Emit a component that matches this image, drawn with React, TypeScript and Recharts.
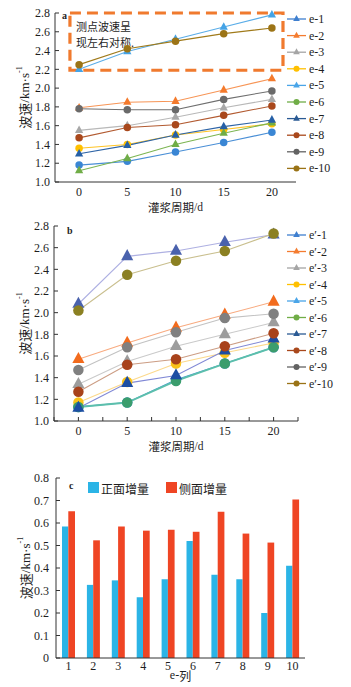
import React from 'react';
import { LineChart, Line, XAxis, YAxis, Legend, ReferenceArea, Customized, BarChart, Bar, Label } from 'recharts';

// ---------- data ----------
const periods = [0, 5, 10, 15, 20];
const periodTicksA = [0, 5, 10, 15, 20];
const periodTicksB = [-2.5, 0, 2.5, 5, 7.5, 10, 12.5, 15, 17.5, 20, 22.5];
const yTicksAB = [1.0, 1.2, 1.4, 1.6, 1.8, 2.0, 2.2, 2.4, 2.6, 2.8];
const yTicksC = [0, 0.1, 0.2, 0.3, 0.4, 0.5, 0.6, 0.7, 0.8];

const namesA = ['e-1', 'e-2', 'e-3', 'e-4', 'e-5', 'e-6', 'e-7', 'e-8', 'e-9', 'e-10'];
const aE1 = [1.18, 1.22, 1.32, 1.42, 1.53];
const aE2 = [1.79, 1.85, 1.86, 1.98, 2.1];
const aE3 = [1.55, 1.6, 1.69, 1.79, 1.88];
const aE4 = [1.36, 1.4, 1.5, 1.56, 1.62];
const aE5 = [2.2, 2.39, 2.52, 2.65, 2.78];
const aE6 = [1.12, 1.25, 1.4, 1.52, 1.63];
const aE7 = [1.3, 1.39, 1.5, 1.59, 1.66];
const aE8 = [1.47, 1.58, 1.61, 1.71, 1.81];
const aE9 = [1.78, 1.77, 1.77, 1.88, 1.97];
const aE10 = [2.25, 2.42, 2.5, 2.58, 2.64];

const namesB = ["e′-1", "e′-2", "e′-3", "e′-4", "e′-5", "e′-6", "e′-7", "e′-8", "e′-9", "e′-10"];
const bE1 = [1.13, 1.17, 1.38, 1.53, 1.68];
const bE2 = [1.57, 1.72, 1.86, 1.98, 2.1];
const bE3 = [1.34, 1.55, 1.69, 1.8, 1.91];
const bE4 = [1.17, 1.36, 1.53, 1.63, 1.72];
const bE5 = [2.08, 2.52, 2.57, 2.65, 2.72];
const bE6 = [1.13, 1.17, 1.37, 1.53, 1.68];
const bE7 = [1.12, 1.35, 1.42, 1.65, 1.76];
const bE8 = [1.27, 1.52, 1.57, 1.69, 1.81];
const bE9 = [1.47, 1.68, 1.82, 1.95, 1.99];
const bE10 = [2.02, 2.35, 2.48, 2.57, 2.73];

const columns = ['1', '2', '3', '4', '5', '6', '7', '8', '9', '10'];
const frontInc = [0.585, 0.325, 0.345, 0.27, 0.35, 0.52, 0.37, 0.35, 0.2, 0.41];
const sideInc = [0.652, 0.523, 0.584, 0.566, 0.57, 0.561, 0.65, 0.553, 0.513, 0.705];

// ---------- styles ----------
const SERIF = '"Liberation Serif", "Times New Roman", serif';
const CJK = '"Noto Sans CJK SC", sans-serif';
const TXT = '#1e1e1e';
const AXIS = '#333';

type Sty = { line: string; mark: string; shape: 'circle' | 'tri'; legColor: string; legShape: 'circle' | 'tri'; w?: number };

const stylesA: Sty[] = [
  { line: '#4a8fd6', mark: '#3a86d4', shape: 'circle', legColor: '#3f7fcf', legShape: 'tri' },
  { line: '#f79556', mark: '#f47a2c', shape: 'tri', legColor: '#f47c30', legShape: 'tri' },
  { line: '#b8b8b8', mark: '#a8a8a8', shape: 'tri', legColor: '#a5a5a5', legShape: 'tri' },
  { line: '#ffc425', mark: '#ffc000', shape: 'circle', legColor: '#ffc000', legShape: 'circle' },
  { line: '#5aade8', mark: '#44a3e6', shape: 'tri', legColor: '#4aa5e8', legShape: 'tri' },
  { line: '#7cb552', mark: '#70ad47', shape: 'tri', legColor: '#70ad47', legShape: 'circle' },
  { line: '#2e64a6', mark: '#2660a6', shape: 'tri', legColor: '#2a5a94', legShape: 'tri' },
  { line: '#b25a30', mark: '#a9481c', shape: 'circle', legColor: '#a9481c', legShape: 'circle' },
  { line: '#6f6f6f', mark: '#6a6a6a', shape: 'circle', legColor: '#636363', legShape: 'circle' },
  { line: '#a07a1a', mark: '#9c7416', shape: 'circle', legColor: '#9a7316', legShape: 'circle' },
];

const stylesB: Sty[] = [
  { line: '#4a9ad6', mark: '#3a8ad0', shape: 'circle', legColor: '#3f7fcf', legShape: 'tri' },
  { line: '#f8ab80', mark: '#f26b1d', shape: 'tri', legColor: '#f47c30', legShape: 'tri' },
  { line: '#cacaca', mark: '#9d9d9d', shape: 'tri', legColor: '#a5a5a5', legShape: 'tri' },
  { line: '#fcd98c', mark: '#f9c21a', shape: 'circle', legColor: '#ffc000', legShape: 'circle' },
  { line: '#aeb0e2', mark: '#4a62ad', shape: 'tri', legColor: '#4aa5e8', legShape: 'tri' },
  { line: '#5cbfac', mark: '#3b9d6d', shape: 'circle', legColor: '#70ad47', legShape: 'circle', w: 2 },
  { line: '#8189d6', mark: '#1c4ea3', shape: 'tri', legColor: '#2a5a94', legShape: 'tri' },
  { line: '#cc9d84', mark: '#a8421b', shape: 'circle', legColor: '#a9481c', legShape: 'circle' },
  { line: '#c2c2c2', mark: '#808080', shape: 'circle', legColor: '#636363', legShape: 'circle' },
  { line: '#c9bf8e', mark: '#8b8022', shape: 'circle', legColor: '#9a7316', legShape: 'circle' },
];

const valuesA = [aE1, aE2, aE3, aE4, aE5, aE6, aE7, aE8, aE9, aE10];
const valuesB = [bE1, bE2, bE3, bE4, bE5, bE6, bE7, bE8, bE9, bE10];

const rowsA = periods.map((p, i) => {
  const r: any = { x: p };
  valuesA.forEach((v, k) => (r['s' + k] = v[i]));
  return r;
});
const rowsB = periods.map((p, i) => {
  const r: any = { x: p };
  valuesB.forEach((v, k) => (r['s' + k] = v[i]));
  return r;
});
const rowsC = columns.map((c, i) => ({ cat: c, front: frontInc[i], side: sideInc[i] }));

// ---------- helpers ----------
const Marker = ({ cx, cy, shape, fill, size }: any) => {
  if (cx == null || cy == null) return null;
  if (shape === 'circle') return <circle cx={cx} cy={cy} r={size / 2} fill={fill} />;
  const s = size * 1.1;
  const pts = `${cx},${cy - s * 0.6} ${cx - s / 2},${cy + s * 0.32} ${cx + s / 2},${cy + s * 0.32}`;
  return <polygon points={pts} fill={fill} />;
};

const YLabel = (xPos: number) => (props: any) => {
  const vb = props.viewBox || {};
  const cy = vb.y + vb.height / 2;
  return (
    <text x={xPos} y={cy} transform={`rotate(-90 ${xPos} ${cy})`} textAnchor="middle" dominantBaseline="central" fontSize={13} fill={TXT} fontFamily={SERIF}>
      <tspan fontFamily={CJK}>波速</tspan>
      <tspan>/km·s</tspan>
      <tspan fontSize={8} dy={-5}>-1</tspan>
    </text>
  );
};

const LineLegend = ({ names, styles, step, first }: any) => (
  <svg width={67} height={first + step * 10} style={{ display: 'block' }}>
    {names.map((n: string, i: number) => {
      const y = first + i * step;
      const st: Sty = styles[i];
      return (
        <g key={n}>
          <line x1={3} x2={22} y1={y} y2={y} stroke={st.legColor} strokeWidth={1.3} />
          <Marker cx={12.5} cy={y} shape={st.legShape} fill={st.legColor} size={6} />
          <text x={25} y={y} dominantBaseline="central" fontSize={12} fontFamily={SERIF} fill={TXT}>{n}</text>
        </g>
      );
    })}
  </svg>
);

const tickStyle = { fontSize: 12, fontFamily: SERIF, fill: TXT };
const fmt1 = (v: number) => v.toFixed(1);

const XLabel = (y: number) => (p: any) => {
  const vb = p.viewBox;
  return (
    <text x={vb.x + vb.width / 2} y={y} textAnchor="middle" dominantBaseline="central" fontSize={11.5} fill={TXT} fontFamily={SERIF}>
      <tspan fontFamily={CJK}>灌浆周期</tspan>
      <tspan>/d</tspan>
    </text>
  );
};

export default function App() {
  return (
    <div style={{ position: 'absolute', left: 0, top: 0, width: 351, height: 687, background: '#fff', overflow: 'hidden' }}>
      {/* Chart a */}
      <div style={{ position: 'absolute', left: 0, top: 0 }}>
        <LineChart width={351} height={216} data={rowsA} margin={{ top: 13, right: 55, bottom: 0, left: 0 }}>
          <XAxis type="number" dataKey="x" domain={[-2.5, 22.5]} ticks={periodTicksA} tickLine={false} tickSize={0} tickMargin={5}
            axisLine={{ stroke: AXIS }} tick={tickStyle} height={34}>
            <Label content={XLabel(207)} />
          </XAxis>
          <YAxis type="number" domain={[1.0, 2.8]} ticks={yTicksAB} tickFormatter={fmt1} width={55} tickSize={-4} tickMargin={9}
            axisLine={{ stroke: AXIS }} tickLine={{ stroke: AXIS }} tick={tickStyle} interval={0}>
            <Label content={YLabel(24)} />
          </YAxis>
          <ReferenceArea x1={-0.95} x2={21.15} y1={2.19} y2={2.8} fill="none" stroke="#f07a2e" strokeWidth={3.2} strokeDasharray="11 6" ifOverflow="visible"
            label={(p: any) => {
              const vb = p.viewBox;
              return (
                <g>
                  <text x={vb.x + 6} y={vb.y + 13} dominantBaseline="central" fontSize={11} fill={TXT} fontFamily={CJK}>测点波速呈</text>
                  <text x={vb.x + 6} y={vb.y + 29} dominantBaseline="central" fontSize={11} fill={TXT} fontFamily={CJK}>现左右对称.</text>
                </g>
              );
            }} />
          {valuesA.map((_, k) => {
            const st = stylesA[k];
            return (
              <Line key={k} dataKey={'s' + k} stroke={st.line} strokeWidth={1.1} isAnimationActive={false} activeDot={false}
                dot={(p: any) => <Marker key={`a${k}-${p.index}`} cx={p.cx} cy={p.cy} shape={st.shape} fill={st.mark} size={7.5} />} />
            );
          })}
          <Customized component={() => <text x={62} y={15} dominantBaseline="central" fontSize={10} fontWeight="bold" fontFamily={SERIF} fill={TXT}>a</text>} />
          <Legend layout="vertical" verticalAlign="middle" align="center" wrapperStyle={{ left: 284, top: 8, width: 67 }}
            content={() => <LineLegend names={namesA} styles={stylesA} step={16.6} first={11} />} />
        </LineChart>
      </div>

      {/* Chart b */}
      <div style={{ position: 'absolute', left: 0, top: 215 }}>
        <LineChart width={351} height={240} data={rowsB} margin={{ top: 11, right: 53, bottom: 0, left: 0 }}>
          <XAxis type="number" dataKey="x" domain={[-2.5, 22.5]} ticks={periodTicksB} interval={0} tickSize={-4} tickMargin={9}
            tickFormatter={(v: number) => (v % 5 === 0 && v >= 0 ? String(v) : '')}
            axisLine={{ stroke: AXIS }} tickLine={{ stroke: AXIS }} tick={tickStyle} height={34}>
            <Label content={XLabel(231)} />
          </XAxis>
          <YAxis type="number" domain={[1.0, 2.8]} ticks={yTicksAB} tickFormatter={fmt1} width={54} tickSize={-4} tickMargin={9}
            axisLine={{ stroke: AXIS }} tickLine={{ stroke: AXIS }} tick={tickStyle} interval={0}>
            <Label content={YLabel(24)} />
          </YAxis>
          {valuesB.map((_, k) => {
            const st = stylesB[k];
            return (
              <Line key={k} dataKey={'s' + k} stroke={st.line} strokeWidth={st.w || 1.1} isAnimationActive={false} activeDot={false}
                dot={(p: any) => <Marker key={`b${k}-${p.index}`} cx={p.cx} cy={p.cy} shape={st.shape} fill={st.mark} size={st.shape === 'tri' ? 11 : 10.5} />} />
            );
          })}
          <Customized component={() => <text x={67} y={15} dominantBaseline="central" fontSize={10} fontWeight="bold" fontFamily={SERIF} fill={TXT}>b</text>} />
          <Legend layout="vertical" verticalAlign="middle" align="center" wrapperStyle={{ left: 284, top: 10, width: 67 }}
            content={() => <LineLegend names={namesB} styles={stylesB} step={16.5} first={10} />} />
        </LineChart>
      </div>

      {/* Chart c */}
      <div style={{ position: 'absolute', left: 0, top: 455 }}>
        <BarChart width={351} height={232} data={rowsC} margin={{ top: 23, right: 46, bottom: 0, left: 0 }} barGap={0} barCategoryGap="24%">
          <XAxis dataKey="cat" tickLine={false} tickSize={0} tickMargin={3} axisLine={{ stroke: AXIS }} tick={tickStyle} height={29} interval={0}>
            <Label content={(p: any) => {
              const vb = p.viewBox;
              return <text x={vb.x + vb.width / 2} y={220} textAnchor="middle" dominantBaseline="central" fontSize={12} fill={TXT} fontFamily={SERIF}><tspan>e-</tspan><tspan fontFamily={CJK}>列</tspan></text>;
            }} />
          </XAxis>
          <YAxis type="number" domain={[0, 0.8]} ticks={yTicksC} tickFormatter={(v: number) => (v === 0 ? '0' : v.toFixed(1))} width={56}
            tickSize={-4} tickMargin={11} axisLine={{ stroke: AXIS }} tickLine={{ stroke: AXIS }} tick={tickStyle} interval={0}>
            <Label content={YLabel(25)} />
          </YAxis>
          <Bar dataKey="front" fill="#2bb4e6" barSize={6.3} isAnimationActive={false} />
          <Bar dataKey="side" fill="#ef4524" barSize={6.7} isAnimationActive={false} />
          <Customized component={() => <text x={69} y={30} dominantBaseline="central" fontSize={10} fontWeight="bold" fontFamily={SERIF} fill={TXT}>c</text>} />
          <Legend layout="vertical" verticalAlign="middle" align="center" wrapperStyle={{ left: 86, top: 25, width: 160 }}
            content={() => (
              <svg width={160} height={16} style={{ display: 'block' }}>
                <rect x={2} y={2} width={11} height={11} fill="#2bb4e6" />
                <text x={15} y={8} dominantBaseline="central" fontSize={12} fontFamily={CJK} fill={TXT}>正面增量</text>
                <rect x={80} y={2} width={11} height={11} fill="#ef4524" />
                <text x={93} y={8} dominantBaseline="central" fontSize={12} fontFamily={CJK} fill={TXT}>侧面增量</text>
              </svg>
            )} />
        </BarChart>
      </div>
    </div>
  );
}
